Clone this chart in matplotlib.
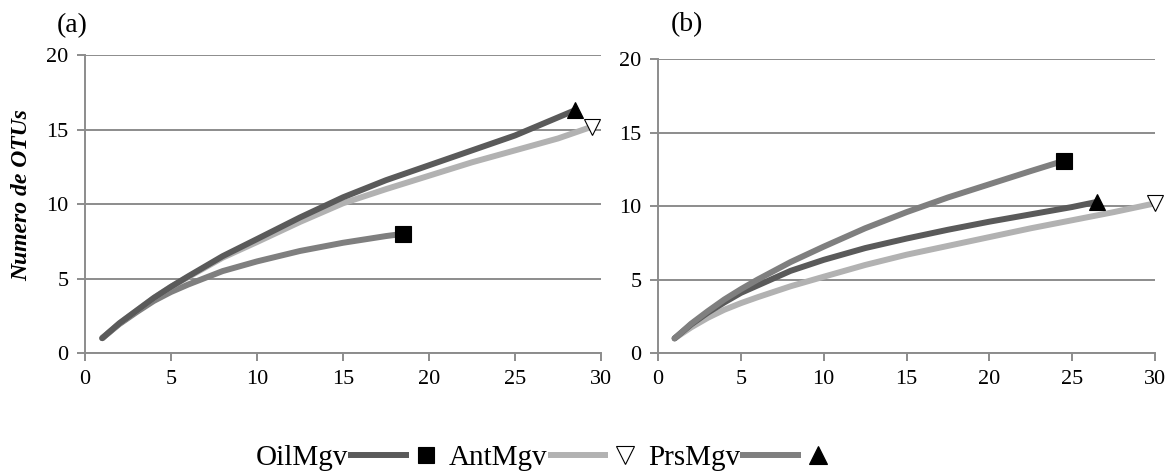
import matplotlib.pyplot as plt
from matplotlib.lines import Line2D

plt.rcParams['font.family'] = ['Liberation Serif', 'DejaVu Serif']

# panel (a) curves
a_dark_x = [1, 2, 3, 4, 5, 6, 8, 10, 12.5, 15, 17.5, 20, 22.5, 25, 28.5]
a_dark_y = [1, 2.0, 2.85, 3.7, 4.45, 5.15, 6.5, 7.65, 9.1, 10.45, 11.6, 12.6, 13.6, 14.6, 16.3]
a_light_x = [1, 2, 3, 4, 5, 6, 8, 10, 12.5, 15, 17.5, 20, 22.5, 25, 27.5, 29.5]
a_light_y = [1, 2.0, 2.85, 3.7, 4.45, 5.1, 6.4, 7.45, 8.8, 10.05, 11.0, 11.9, 12.8, 13.6, 14.4, 15.2]
a_mid_x = [1, 2, 3, 4, 5, 6, 8, 10, 12.5, 15, 17.5, 18.5]
a_mid_y = [1, 1.95, 2.75, 3.5, 4.1, 4.6, 5.5, 6.15, 6.85, 7.4, 7.85, 8.0]

# panel (b) curves
b_mid_x = [1, 2, 3, 4, 5, 6, 8, 10, 12.5, 15, 17.5, 20, 22.5, 24.5]
b_mid_y = [1, 2.0, 2.85, 3.65, 4.35, 5.0, 6.2, 7.25, 8.5, 9.6, 10.6, 11.5, 12.4, 13.1]
b_dark_x = [1, 2, 3, 4, 5, 6, 8, 10, 12.5, 15, 17.5, 20, 22.5, 25, 26.5]
b_dark_y = [1, 1.95, 2.75, 3.45, 4.1, 4.6, 5.6, 6.35, 7.15, 7.8, 8.4, 8.95, 9.45, 9.95, 10.3]
b_light_x = [1, 2, 3, 4, 5, 6, 8, 10, 12.5, 15, 17.5, 20, 22.5, 25, 27.5, 30]
b_light_y = [1, 1.75, 2.4, 2.95, 3.4, 3.8, 4.55, 5.2, 6.0, 6.7, 7.3, 7.9, 8.5, 9.05, 9.6, 10.2]

legend_labels = ['OilMgv', 'AntMgv', 'PrsMgv']

DARK = '#5a5a5a'
MID = '#7f7f7f'
LIGHT = '#b2b2b2'
AXC = '#8c8c8c'
LW = 4.3

fig = plt.figure(figsize=(11.73, 4.72), dpi=100)
ax1 = fig.add_axes([0.0725, 0.252, 0.4399, 0.6315])
ax2 = fig.add_axes([0.561, 0.252, 0.4237, 0.622])


def style(ax):
    ax.set_xlim(0, 30)
    ax.set_ylim(0, 20)
    ax.set_xticks(range(0, 31, 5))
    ax.set_yticks(range(0, 21, 5))
    for s in ['top', 'right']:
        ax.spines[s].set_visible(False)
    for s in ['left', 'bottom']:
        ax.spines[s].set_color(AXC)
        ax.spines[s].set_linewidth(1.4)
    ax.tick_params(colors=AXC, width=1.4, length=6, labelsize=16,
                   labelcolor='black', pad=6)
    ax.yaxis.grid(True, color=AXC, linewidth=1.4)
    ax.set_axisbelow(True)


def curve(ax, x, y, color, marker, mfc):
    ax.plot(x, y, color=color, lw=LW, solid_capstyle='round',
            solid_joinstyle='round', clip_on=False)
    ax.plot(x[-1], y[-1], marker=marker, ms=12, mfc=mfc, mec='black',
            mew=0.8, ls='none', clip_on=False, zorder=5)


style(ax1)
curve(ax1, a_mid_x, a_mid_y, MID, 's', 'black')
curve(ax1, a_light_x, a_light_y, LIGHT, 'v', 'white')
curve(ax1, a_dark_x, a_dark_y, DARK, '^', 'black')
ax1.set_ylabel('Numero de OTUs', fontsize=17, style='italic', fontweight='bold')
ax1.yaxis.set_label_coords(-0.103, 0.53)
ax1.text(-0.025, 1.097, '(a)', transform=ax1.transAxes, fontsize=20,
         ha='center', va='center')

style(ax2)
curve(ax2, b_light_x, b_light_y, LIGHT, 'v', 'white')
curve(ax2, b_dark_x, b_dark_y, DARK, '^', 'black')
curve(ax2, b_mid_x, b_mid_y, MID, 's', 'black')
ax2.text(0.058, 1.119, '(b)', transform=ax2.transAxes, fontsize=20,
         ha='center', va='center')


# legend handle: a line segment followed by the marker
class LineThenMarker:
    def legend_artist(self, legend, orig_handle, fontsize, handlebox):
        ln, mk = orig_handle
        x0, y0 = -handlebox.xdescent, -handlebox.ydescent
        w, h = handlebox.width, handlebox.height
        yc = y0 + h / 2
        seg = Line2D([x0, x0 + 0.69 * w], [yc, yc], color=ln.get_color(),
                     lw=ln.get_linewidth(), solid_capstyle='butt')
        dot = Line2D([x0 + 0.885 * w], [yc], marker=mk.get_marker(),
                     ms=mk.get_markersize(), mfc=mk.get_markerfacecolor(),
                     mec='black', mew=0.8, ls='none')
        handlebox.add_artist(seg)
        handlebox.add_artist(dot)
        return seg


handles = [
    (Line2D([], [], color=DARK, lw=LW),
     Line2D([], [], marker='s', ms=12, mfc='black')),
    (Line2D([], [], color=LIGHT, lw=LW),
     Line2D([], [], marker='v', ms=13, mfc='white')),
    (Line2D([], [], color=MID, lw=LW),
     Line2D([], [], marker='^', ms=13, mfc='black')),
]
fig.legend(handles, legend_labels, loc='center', bbox_to_anchor=(0.462, 0.03),
           ncol=3, frameon=False, markerfirst=False, fontsize=21,
           handlelength=3.0, handletextpad=0.0, columnspacing=0.45,
           borderpad=0.1, handler_map={tuple: LineThenMarker()})

fig.savefig('out.png', dpi=100)
